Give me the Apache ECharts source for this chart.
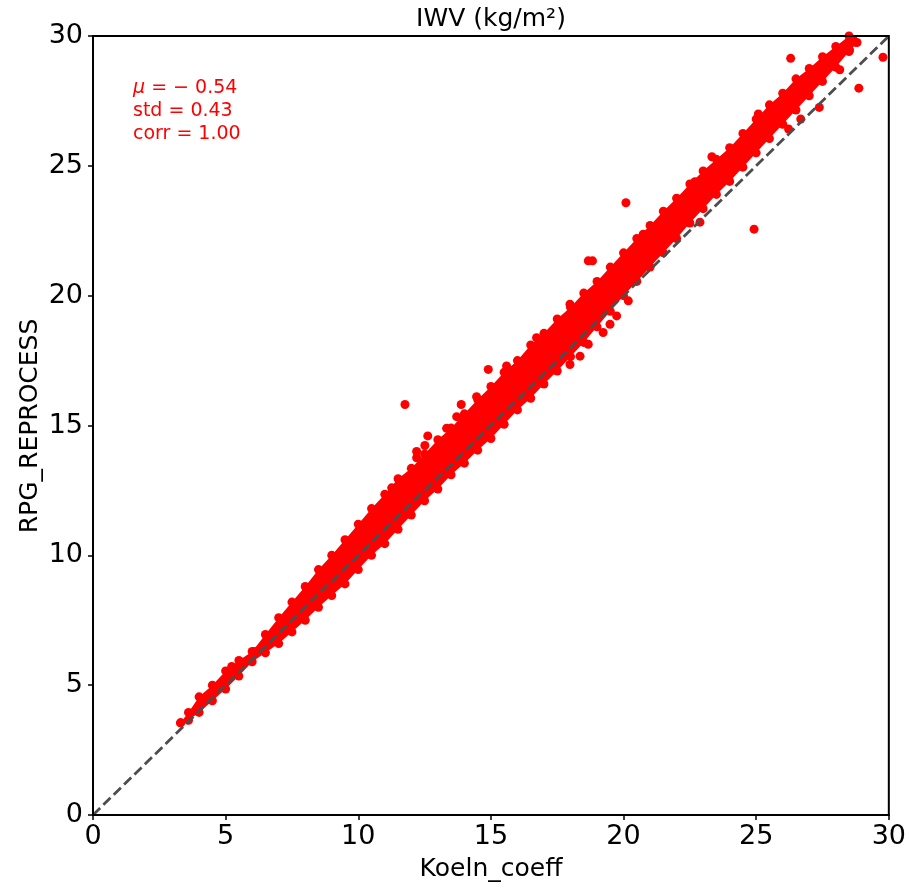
<!DOCTYPE html>
<html><head><meta charset="utf-8">
<script src="https://cdn.jsdelivr.net/npm/echarts/dist/echarts.min.js"></script>
<style>html,body{margin:0;padding:0;background:#fff}#c{width:909px;height:889px}</style>
</head><body><div id="c"></div>
<script>
// ---- data ----
const titleText = 'IWV (kg/m²)';
const xName = 'Koeln_coeff';
const yName = 'RPG_REPROCESS';
const axisMin = 0, axisMax = 30, tickStep = 5;

// dense scatter band: x positions with upper / lower envelope of the points
const bandX = [3.3,3.6,4.0,4.5,5.0,5.5,6.0,6.5,7.0,7.5,8.0,8.5,9.0,9.5,10.0,10.5,11.0,11.5,12.0,12.5,13.0,13.5,14.0,14.5,15.0,15.5,16.0,16.5,17.0,17.5,18.0,18.5,19.0,19.5,20.0,20.5,21.0,21.5,22.0,22.5,23.0,23.5,24.0,24.5,25.0,25.5,26.0,26.5,27.0,27.5,28.0,28.5,28.8];
const bandUpper = [3.55,3.95,4.55,5.0,5.55,5.95,6.3,6.95,7.6,8.2,8.8,9.45,10.0,10.6,11.2,11.8,12.35,12.95,13.35,13.9,14.45,14.9,15.45,16.0,16.5,17.05,17.5,18.1,18.55,19.1,19.55,20.1,20.55,21.1,21.65,22.2,22.7,23.25,23.75,24.3,24.8,25.25,25.7,26.25,26.8,27.35,27.8,28.35,28.75,29.2,29.6,30.0,30.15];
const bandLower = [3.55,3.65,3.95,4.4,4.85,5.35,5.9,6.25,6.6,7.05,7.5,8.0,8.45,8.9,9.45,10.0,10.45,11.0,11.55,12.1,12.55,13.1,13.55,14.05,14.5,15.05,15.6,16.05,16.6,17.1,17.65,18.2,18.8,19.4,20.0,20.55,21.1,21.65,22.2,22.8,23.35,23.9,24.4,24.95,25.5,26.05,26.6,27.15,27.7,28.25,28.8,29.4,29.75];

// isolated points outside the band
const outliers = [
  [26.3,29.14],[29.78,29.18],[28.87,27.99],[28.15,28.7],[28.74,29.76],[28.52,29.46],
  [24.92,22.56],[23.33,25.35],[25.08,27.0],[25.53,27.29],[27.38,27.25],[26.68,26.8],
  [26.22,26.42],[22.88,22.83],[22.69,24.39],[20.74,22.37],[20.09,23.58],[18.67,21.34],
  [18.83,21.34],[14.9,17.16],[15.59,17.29],[16.72,18.38],[17.98,19.67],[17.98,17.35],
  [18.36,17.67],[18.67,18.13],[19.23,18.58],[19.49,18.9],[19.74,19.22],[20.18,19.8],
  [11.76,15.81],[13.88,15.81],[14.46,16.11],[13.71,15.34],[12.62,14.6],[12.51,14.23],
  [12.2,14.0],[12.2,13.76],[13.33,14.89],[11.26,12.6],[14.46,14.2],
  [5.23,5.72],[6.11,6.3],[6.86,7.07],[7.11,7.45]
];
const oneToOne = [[0,0],[30,30]];
const statLines = ['{i|μ} = − 0.54', 'std = 0.43', 'corr = 1.00'];

// ---- chart ----
const chart = echarts.init(document.getElementById('c'), null, {renderer:'canvas'});
const FONT = 'DejaVu Sans';
const edgePts = [];
for (let i = 0; i < bandX.length; i++) {
  edgePts.push([bandX[i], bandUpper[i]]);
  edgePts.push([bandX[i], bandLower[i]]);
}
const statGraphics = statLines.map((t, i) => ({
  type:'text', x:133, y:88 + i*23, z:100,
  style:{text:t, fill:'#ff0000', font:'19px "DejaVu Sans"', textVerticalAlign:'middle', textAlign:'left',
    rich:{i:{fontStyle:'italic', fontSize:19, fontFamily:FONT, fill:'#ff0000'}}}
}));

chart.setOption({
  animation:false,
  backgroundColor:'#ffffff',
  grid:{left:93, right:20, top:36, bottom:74, show:true, borderColor:'#000', borderWidth:2, backgroundColor:'transparent', z:20},
  xAxis:{type:'value', min:axisMin, max:axisMax, interval:tickStep,
    axisLine:{show:true, onZero:false, lineStyle:{color:'#000', width:2}},
    axisTick:{show:true, inside:false, length:5, lineStyle:{color:'#000', width:1.5}},
    axisLabel:{color:'#000', fontSize:27, fontFamily:FONT, margin:8},
    splitLine:{show:false}},
  yAxis:{type:'value', min:axisMin, max:axisMax, interval:tickStep,
    axisLine:{show:true, onZero:false, lineStyle:{color:'#000', width:2}},
    axisTick:{show:true, inside:false, length:5, lineStyle:{color:'#000', width:1.5}},
    axisLabel:{color:'#000', fontSize:27, fontFamily:FONT, margin:10},
    splitLine:{show:false}},
  graphic:[
    {type:'text', x:491, y:19, style:{text:titleText, fill:'#000', font:'25px "DejaVu Sans"', textAlign:'center', textVerticalAlign:'middle'}},
    {type:'text', x:491, y:869, style:{text:xName, fill:'#000', font:'25px "DejaVu Sans"', textAlign:'center', textVerticalAlign:'middle'}},
    {type:'text', x:30, y:426, rotation:Math.PI/2, style:{text:yName, fill:'#000', font:'25px "DejaVu Sans"', textAlign:'center', textVerticalAlign:'middle'}}
  ].concat(statGraphics),
  series:[
    {type:'custom', silent:true, data:[0], z:2,
      renderItem:function(params, api){
        const pts = [];
        for (let i = 0; i < bandX.length; i++) pts.push(api.coord([bandX[i], bandUpper[i]]));
        for (let i = bandX.length-1; i >= 0; i--) pts.push(api.coord([bandX[i], bandLower[i]]));
        const cs = params.coordSys;
        return {type:'group', clipPath:{type:'rect', shape:{x:cs.x, y:cs.y, width:cs.width, height:cs.height}},
          children:[{type:'polygon', shape:{points:pts}, style:{fill:'#ff0000'}}]};
      }},
    {type:'scatter', data:edgePts, symbolSize:9, itemStyle:{color:'#ff0000', opacity:1}, z:3, clip:true, silent:true},
    {type:'scatter', data:outliers, symbolSize:9, itemStyle:{color:'#ff0000', opacity:1}, z:3, clip:true, silent:true},
    {type:'line', data:oneToOne, symbol:'none', z:10, silent:true,
      lineStyle:{color:'#4d4d4d', width:2.8, type:[10,4.5]}}
  ]
});
</script>
</body></html>
